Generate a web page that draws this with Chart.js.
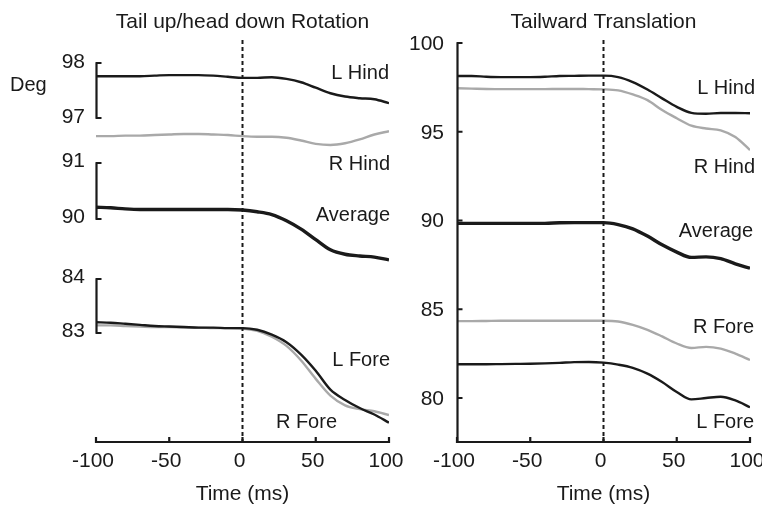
<!DOCTYPE html>
<html>

<head>
  <title>Tail up/head down Rotation - Tailward Translation</title>
  <script src="https://cdn.jsdelivr.net/npm/chart.js@4.4.1/dist/chart.umd.min.js"></script>

  <style>
    body {
      margin: 0;
      background-color: white;
    }

    .panel {
      position: absolute;
      top: 0;
    }
  </style>
</head>

<body>
  <canvas id="rotChart" class="panel" width="420" height="511" style="left:0px"></canvas>
  <canvas id="transChart" class="panel" width="362" height="511" style="left:400px"></canvas>

  <script>
    // time axis (ms), one sample every 10 ms
    const times = [-100, -90, -80, -70, -60, -50, -40, -30, -20, -10, 0, 10, 20, 30, 40, 50, 60, 70, 80, 90, 100];
    const timeTicks = [-100, -50, 0, 50, 100];
    const onsetTime = 0;

    // Tail up/head down rotation (deg)
    const rotLHind = [97.76, 97.76, 97.76, 97.76, 97.77, 97.78, 97.78, 97.78, 97.77, 97.75, 97.73, 97.73, 97.74, 97.71, 97.65, 97.55, 97.45, 97.39, 97.36, 97.34, 97.27];
    const rotRHind = [96.67, 96.67, 96.68, 96.68, 96.69, 96.70, 96.71, 96.71, 96.70, 96.69, 96.67, 96.66, 96.66, 96.64, 96.59, 96.53, 96.51, 96.54, 96.61, 96.70, 96.76];
    const rotAverage = [90.21, 90.20, 90.18, 90.17, 90.17, 90.17, 90.17, 90.17, 90.17, 90.17, 90.16, 90.13, 90.08, 89.97, 89.82, 89.63, 89.45, 89.37, 89.34, 89.32, 89.27];
    const rotLFore = [83.20, 83.19, 83.17, 83.15, 83.13, 83.12, 83.11, 83.10, 83.10, 83.09, 83.09, 83.06, 82.97, 82.83, 82.60, 82.30, 81.95, 81.76, 81.61, 81.49, 81.34];
    const rotRFore = [83.14, 83.14, 83.13, 83.12, 83.11, 83.11, 83.10, 83.10, 83.09, 83.09, 83.08, 83.04, 82.93, 82.76, 82.49, 82.15, 81.84, 81.66, 81.59, 81.55, 81.48];
    const rotHindTicks = [97, 98];
    const rotAvgTicks = [90, 91];
    const rotForeTicks = [83, 84];

    // Tailward translation (deg)
    const trLHind = [98.14, 98.14, 98.10, 98.08, 98.08, 98.08, 98.10, 98.14, 98.15, 98.16, 98.16, 98.08, 97.80, 97.38, 96.88, 96.40, 96.06, 96.01, 96.06, 96.06, 96.04];
    const trRHind = [97.45, 97.43, 97.41, 97.40, 97.40, 97.40, 97.40, 97.41, 97.41, 97.40, 97.39, 97.33, 97.10, 96.78, 96.22, 95.76, 95.34, 95.18, 95.08, 94.70, 93.97];
    const trAverage = [89.84, 89.84, 89.84, 89.84, 89.84, 89.84, 89.84, 89.87, 89.88, 89.88, 89.88, 89.77, 89.53, 89.12, 88.63, 88.22, 87.92, 87.95, 87.85, 87.56, 87.31];
    const trRFore = [84.33, 84.33, 84.34, 84.35, 84.35, 84.35, 84.35, 84.35, 84.35, 84.35, 84.35, 84.31, 84.12, 83.84, 83.47, 83.07, 82.82, 82.88, 82.78, 82.50, 82.14];
    const trLFore = [81.90, 81.90, 81.90, 81.91, 81.92, 81.93, 81.95, 81.98, 82.02, 82.03, 81.99, 81.88, 81.70, 81.37, 80.90, 80.34, 79.92, 80.00, 80.07, 79.86, 79.48];
    const trTicks = [80, 85, 90, 95, 100];

    const ink = '#1a1a1a';
    const grey = '#a9a9a9';
    const fontFamily = '"Liberation Sans", Arial, Helvetica, sans-serif';

    Chart.defaults.font.family = fontFamily;
    Chart.defaults.font.size = 21;
    Chart.defaults.color = ink;

    function pts(values) {
      return times.map((t, i) => ({ x: t, y: values[i] }));
    }

    function line(label, values, yAxisID, color, width) {
      return {
        label: label,
        data: pts(values),
        yAxisID: yAxisID,
        borderColor: color,
        borderWidth: width,
        pointRadius: 0,
        fill: false,
        cubicInterpolationMode: 'monotone'
      };
    }

    // axis lines, inward ticks, onset line and curve names
    const panelDecor = {
      id: 'panelDecor',
      afterDatasetsDraw(chart, args, opts) {
        const ctx = chart.ctx;
        const area = chart.chartArea;
        const xs = chart.scales.x;
        ctx.save();
        ctx.strokeStyle = ink;
        ctx.fillStyle = ink;

        // stimulus onset
        const x0 = xs.getPixelForValue(onsetTime);
        ctx.lineWidth = 2;
        ctx.setLineDash([4, 3]);
        ctx.beginPath();
        ctx.moveTo(x0, opts.dashTop);
        ctx.lineTo(x0, area.bottom);
        ctx.stroke();
        ctx.setLineDash([]);

        // time axis
        ctx.lineWidth = 2.2;
        ctx.beginPath();
        ctx.moveTo(xs.getPixelForValue(timeTicks[0]), area.bottom);
        ctx.lineTo(xs.getPixelForValue(timeTicks[timeTicks.length - 1]), area.bottom);
        timeTicks.forEach(t => {
          const px = xs.getPixelForValue(t);
          ctx.moveTo(px, area.bottom + 1);
          ctx.lineTo(px, area.bottom - 5);
        });
        ctx.stroke();

        // degree axes
        ctx.font = '21px ' + fontFamily;
        ctx.textAlign = 'right';
        ctx.textBaseline = 'middle';
        opts.yAxes.forEach(ax => {
          const s = chart.scales[ax.id];
          const top = s.getPixelForValue(ax.ticks[ax.ticks.length - 1]);
          const bot = ax.toBottom ? area.bottom : s.getPixelForValue(ax.ticks[0]);
          const xl = area.left + 0.5;
          ctx.beginPath();
          ctx.moveTo(xl, top);
          ctx.lineTo(xl, bot);
          ax.ticks.forEach(v => {
            const py = s.getPixelForValue(v);
            ctx.moveTo(xl - 1, py);
            ctx.lineTo(xl + 5, py);
          });
          ctx.stroke();
          ax.ticks.forEach(v => {
            ctx.fillText(String(v), area.left - ax.gap, s.getPixelForValue(v) + ax.shift);
          });
        });

        // curve names
        ctx.font = '20px ' + fontFamily;
        opts.tags.forEach(tag => {
          const ds = chart.data.datasets[tag.ds];
          ctx.fillText(ds.label, area.right + tag.dx, tag.y);
        });

        if (opts.unit) {
          ctx.textAlign = 'left';
          ctx.fillText(opts.unit, 10, 85);
        }
        ctx.restore();
      }
    };

    function xAxis() {
      return {
        type: 'linear',
        min: -100,
        max: 100,
        afterBuildTicks: scale => {
          scale.ticks = timeTicks.map(v => ({ value: v }));
        },
        afterFit: scale => {
          scale.height = 69;
          scale.paddingLeft = 0;
          scale.paddingRight = 0;
        },
        grid: { display: false, drawTicks: false },
        border: { display: false },
        ticks: { padding: 7, maxRotation: 0, autoSkip: false, labelOffset: -3 },
        title: { display: true, text: 'Time (ms)', padding: { top: 0, bottom: 4 } }
      };
    }

    function hiddenY(min, max) {
      return { type: 'linear', display: false, min: min, max: max };
    }

    new Chart(document.getElementById('rotChart'), {
      type: 'line',
      data: {
        datasets: [
          line('L Hind', rotLHind, 'yHind', ink, 2.4),
          line('R Hind', rotRHind, 'yHind', grey, 2.4),
          line('Average', rotAverage, 'yAvg', ink, 3.4),
          line('L Fore', rotLFore, 'yFore', ink, 2.4),
          line('R Fore', rotRFore, 'yFore', grey, 2.4)
        ]
      },
      options: {
        responsive: false,
        animation: false,
        layout: { padding: { left: 96, right: 31, top: 0, bottom: 0 } },
        plugins: {
          legend: { display: false },
          tooltip: { enabled: false },
          title: {
            display: true,
            text: 'Tail up/head down Rotation',
            font: { size: 21, weight: 'normal' },
            padding: { top: 10, bottom: 4.8 }
          },
          panelDecor: {
            dashTop: 40,
            unit: 'Deg',
            yAxes: [
              { id: 'yHind', ticks: rotHindTicks, gap: 11, shift: -1 },
              { id: 'yAvg', ticks: rotAvgTicks, gap: 11, shift: -2 },
              { id: 'yFore', ticks: rotForeTicks, gap: 11, shift: -2 }
            ],
            tags: [
              { ds: 0, dx: 0, y: 73 },
              { ds: 1, dx: 1, y: 164 },
              { ds: 2, dx: 1, y: 215 },
              { ds: 3, dx: 1, y: 360 },
              { ds: 4, dx: -52, y: 422 }
            ]
          }
        },
        scales: {
          x: xAxis(),
          yHind: hiddenY(91.109, 98.418),
          yAvg: hiddenY(86.018, 93.196),
          yFore: hiddenY(80.981, 88.426)
        }
      },
      plugins: [panelDecor]
    });

    new Chart(document.getElementById('transChart'), {
      type: 'line',
      data: {
        datasets: [
          line('L Hind', trLHind, 'y', ink, 2.4),
          line('R Hind', trRHind, 'y', grey, 2.4),
          line('Average', trAverage, 'y', ink, 3.4),
          line('R Fore', trRFore, 'y', grey, 2.4),
          line('L Fore', trLFore, 'y', ink, 2.4)
        ]
      },
      options: {
        responsive: false,
        animation: false,
        layout: { padding: { left: 57, right: 12, top: 0, bottom: 0 } },
        plugins: {
          legend: { display: false },
          tooltip: { enabled: false },
          title: {
            display: true,
            text: 'Tailward Translation',
            font: { size: 21, weight: 'normal' },
            padding: { top: 10, bottom: 7.8 }
          },
          panelDecor: {
            dashTop: 40,
            yAxes: [
              { id: 'y', ticks: trTicks, gap: 13, shift: 1, toBottom: true }
            ],
            tags: [
              { ds: 0, dx: 5, y: 88 },
              { ds: 1, dx: 5, y: 167 },
              { ds: 2, dx: 3, y: 231 },
              { ds: 3, dx: 4, y: 327 },
              { ds: 4, dx: 4, y: 422 }
            ]
          }
        },
        scales: {
          x: xAxis(),
          y: hiddenY(77.52, 100)
        }
      },
      plugins: [panelDecor]
    });
  </script>
</body>

</html>
